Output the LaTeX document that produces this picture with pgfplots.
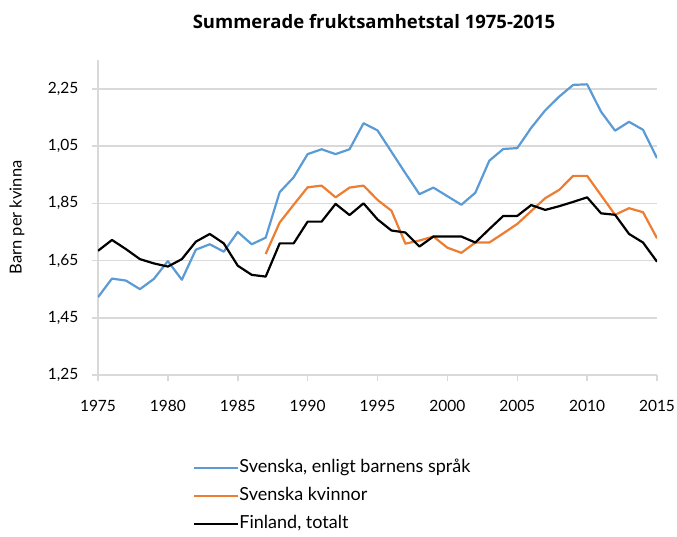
\documentclass[border=0pt]{standalone}
\usepackage{fontspec}
\setmainfont{Lato}
\newfontfamily\titlefont{Open Sans}
\usepackage{pgfplots}
\pgfplotsset{compat=1.18}
\definecolor{serblue}{RGB}{91,155,213}
\definecolor{serorange}{RGB}{237,125,49}
\definecolor{gridgray}{RGB}{217,217,217}
\newcommand\tickfont{\fontsize{15.5}{18}\selectfont}
\newcommand\legfont{\fontsize{18}{20}\selectfont}
\begin{document}
\begin{tikzpicture}
\path[use as bounding box] (0,0) rectangle (677pt,536pt);
\node[font=\titlefont\fontsize{18.5}{22}\selectfont\bfseries] at (374pt,514pt) {Summerade fruktsamhetstal 1975-2015};
\begin{axis}[
  at={(98pt,161pt)}, anchor=south west,
  width=559pt, height=315pt, scale only axis,
  xmin=1975, xmax=2015,
  ymin=1.25, ymax=2.351,
  axis x line*=bottom, axis y line*=left,
  axis line style={draw=gridgray, line width=1.5pt, -},
  tick style={draw=gridgray, line width=1.5pt},
  tick align=outside, major tick length=6pt,
  xtick={1975,1980,1985,1990,1995,2000,2005,2010,2015},
  xticklabels={1975,1980,1985,1990,1995,2000,2005,2010,2015},
  ytick={1.25,1.45,1.65,1.85,2.05,2.25},
  yticklabels={{1,25},{1,45},{1,65},{1,85},{1,05},{2,25}},
  ticklabel style={font=\tickfont, text=black},
  xticklabel style={yshift=-16pt},
  yticklabel style={xshift=-10pt},
  ymajorgrids, grid style={draw=gridgray, line width=1.5pt},
  ylabel={Barn per kvinna},
  every axis y label/.style={at={(axis description cs:-0.145,0.5)}, rotate=90, anchor=center, font=\fontsize{16.5}{18}\selectfont},
  legend style={at={(axis description cs:0.17,-0.384)}, anchor=west,
    draw=none, fill=none, inner sep=0pt, font=\legfont, row sep=11.5pt,
    nodes={inner sep=0pt, text height=12.5pt, text depth=4pt}},
  legend cell align=left,
  legend image code/.code={\draw[#1] (0pt,0pt) -- (44pt,0pt);},
  /tikz/every even column/.append style={column sep=5pt},
  every axis plot/.append style={line width=2.2pt, line join=round},
]
% Svenska, enligt barnens sprak
\addplot[serblue] coordinates {
(1975,1.522) (1976,1.587) (1977,1.580) (1978,1.550) (1979,1.586)
(1980,1.648) (1981,1.583) (1982,1.688) (1983,1.707) (1984,1.681)
(1985,1.750) (1986,1.707) (1987,1.730) (1988,1.889) (1989,1.941)
(1990,2.022) (1991,2.039) (1992,2.022) (1993,2.039) (1994,2.130)
(1995,2.105) (1996,2.030) (1997,1.955) (1998,1.882) (1999,1.905)
(2000,1.875) (2001,1.845) (2002,1.887) (2003,1.999) (2004,2.040)
(2005,2.043) (2006,2.114) (2007,2.175) (2008,2.223) (2009,2.264)
(2010,2.266) (2011,2.170) (2012,2.104) (2013,2.135) (2014,2.107)
(2015,2.008)};
\addlegendentry{Svenska, enligt barnens språk}
% Svenska kvinnor
\addplot[serorange] coordinates {
(1987,1.673) (1988,1.783) (1989,1.845)
(1990,1.906) (1991,1.912) (1992,1.871) (1993,1.905) (1994,1.912)
(1995,1.862) (1996,1.824) (1997,1.709) (1998,1.720) (1999,1.734)
(2000,1.695) (2001,1.677) (2002,1.713) (2003,1.713) (2004,1.745)
(2005,1.778) (2006,1.823) (2007,1.868) (2008,1.897) (2009,1.946)
(2010,1.946) (2011,1.878) (2012,1.810) (2013,1.833) (2014,1.819)
(2015,1.728)};
\addlegendentry{Svenska kvinnor}
% Finland, totalt
\addplot[black] coordinates {
(1975,1.684) (1976,1.722) (1977,1.690) (1978,1.655) (1979,1.640)
(1980,1.629) (1981,1.655) (1982,1.716) (1983,1.743) (1984,1.710)
(1985,1.632) (1986,1.600) (1987,1.594) (1988,1.710) (1989,1.710)
(1990,1.786) (1991,1.786) (1992,1.848) (1993,1.809) (1994,1.850)
(1995,1.794) (1996,1.755) (1997,1.748) (1998,1.699) (1999,1.734)
(2000,1.734) (2001,1.734) (2002,1.713) (2003,1.760) (2004,1.806)
(2005,1.806) (2006,1.844) (2007,1.827) (2008,1.840) (2009,1.855)
(2010,1.871) (2011,1.815) (2012,1.810) (2013,1.743) (2014,1.713)
(2015,1.646)};
\addlegendentry{Finland, totalt}
\end{axis}
\end{tikzpicture}
\end{document}
